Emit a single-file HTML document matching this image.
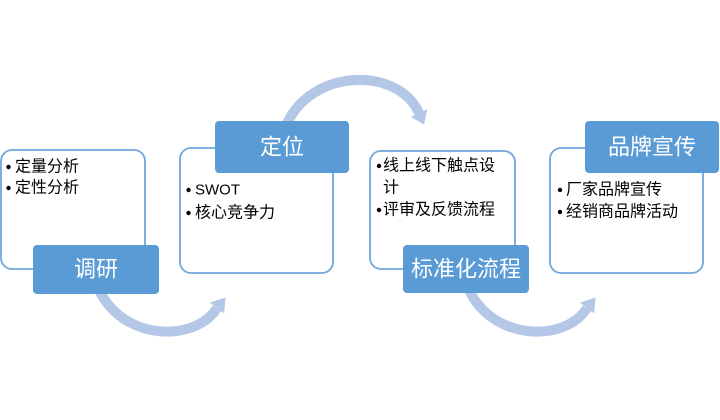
<!DOCTYPE html>
<html>
<head>
<meta charset="utf-8">
<style>
  html, body { margin:0; padding:0; background:#fff; }
  svg { display:block; }
  .lbl { font-family: "Liberation Sans", "Noto Sans CJK SC", sans-serif; font-size:22px; fill:#fff; }
  .txt { font-family: "Liberation Sans", "Noto Sans CJK SC", sans-serif; font-size:16px; fill:#000; }
</style>
</head>
<body>
<svg width="720" height="420" viewBox="0 0 720 420" xmlns="http://www.w3.org/2000/svg">
  <rect x="0" y="0" width="720" height="420" fill="#ffffff"/>

  <!-- Arrows -->
  <g fill="none" stroke="#b4c7e7" stroke-width="10">
    <path d="M 99 290 C 124 342, 196 342, 217 308"/>
    <path d="M 469 290 C 494 342, 566 342, 587 308"/>
    <path d="M 286 126 C 310 68, 398 66, 419 113"/>
  </g>
  <g fill="#b4c7e7">
    <polygon points="209.8,302.6 224.2,313.4 225.5,297.5"/>
    <polygon points="579.8,302.6 594.2,313.4 595.5,297.5"/>
    <polygon points="410.8,116.7 427.2,109.3 424,124.5"/>
  </g>

  <!-- Boxes -->
  <g fill="#ffffff" stroke="#6fa6dc" stroke-width="1.8">
    <rect x="1" y="150" width="144" height="119" rx="11"/>
    <rect x="180" y="148" width="153" height="125" rx="11"/>
    <rect x="370" y="151" width="145" height="118" rx="11"/>
    <rect x="550" y="148" width="153" height="125" rx="11"/>
  </g>

  <!-- Labels -->
  <g fill="#5b9bd5">
    <rect x="33" y="245" width="126" height="49" rx="4"/>
    <rect x="215" y="121" width="134" height="52" rx="4"/>
    <rect x="403" y="245" width="126" height="48" rx="4"/>
    <rect x="585" y="121" width="134" height="52" rx="4"/>
  </g>
  <text class="lbl" x="96" y="269" text-anchor="middle" dominant-baseline="central">调研</text>
  <text class="lbl" x="282" y="147" text-anchor="middle" dominant-baseline="central">定位</text>
  <text class="lbl" x="466" y="269" text-anchor="middle" dominant-baseline="central">标准化流程</text>
  <text class="lbl" x="652" y="147" text-anchor="middle" dominant-baseline="central">品牌宣传</text>

  <!-- Bullets -->
  <g fill="#000">
    <circle cx="8.5" cy="167" r="2.2"/>
    <circle cx="8.5" cy="188" r="2.2"/>
    <circle cx="188.5" cy="190" r="2.2"/>
    <circle cx="188.5" cy="213" r="2.2"/>
    <circle cx="379" cy="166" r="2.2"/>
    <circle cx="379" cy="210" r="2.2"/>
    <circle cx="560" cy="190" r="2.2"/>
    <circle cx="560" cy="212" r="2.2"/>
  </g>

  <!-- Body text -->
  <text class="txt" x="15" y="167" dominant-baseline="central">定量分析</text>
  <text class="txt" x="15" y="188" dominant-baseline="central">定性分析</text>

  <text class="txt" x="195" y="190" dominant-baseline="central" style="font-size:15px">SWOT</text>
  <text class="txt" x="195" y="213" dominant-baseline="central">核心竞争力</text>

  <text class="txt" x="383" y="166" dominant-baseline="central">线上线下触点设</text>
  <text class="txt" x="383" y="188" dominant-baseline="central">计</text>
  <text class="txt" x="383" y="210" dominant-baseline="central">评审及反馈流程</text>

  <text class="txt" x="566" y="190" dominant-baseline="central">厂家品牌宣传</text>
  <text class="txt" x="566" y="212" dominant-baseline="central">经销商品牌活动</text>
</svg>
</body>
</html>
